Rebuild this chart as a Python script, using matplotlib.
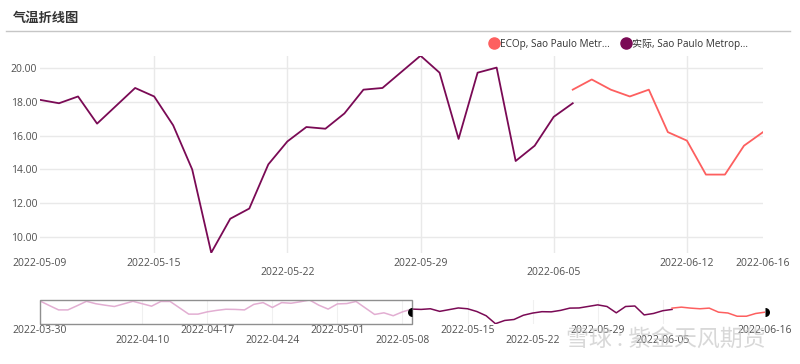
import pandas as pd
import numpy as np
import matplotlib
matplotlib.use('Agg')
import matplotlib.pyplot as plt
import matplotlib.dates as mdates
import matplotlib.transforms as mtransforms
from matplotlib.patches import Rectangle
from matplotlib.lines import Line2D

plt.rcParams['font.family'] = ['Open Sans', 'Noto Sans CJK SC', 'DejaVu Sans']

# temperatures before the zoom window, 2022-03-30 .. 2022-05-08 (overview strip only)
early_start = '2022-03-30'
early_temp = [23.1, 20.3, 17.6, 17.6, 20.2, 22.9, 21.4, 20.5, 19.7, 21.3,
              22.9, 21.4, 19.9, 22.8, 22.8, 18.9, 15.0, 15.0, 16.4, 17.3,
              18.0, 17.9, 17.6, 21.0, 22.1, 19.1, 22.1, 21.7, 22.6, 23.7,
              20.5, 18.1, 21.3, 21.5, 22.8, 18.8, 14.8, 15.8, 14.0, 16.4]

# actual, 2022-05-09 .. 2022-06-06
actual_start = '2022-05-09'
actual_temp = [18.1, 17.9, 18.3, 16.7, 17.75, 18.8, 18.3, 16.6, 14.0, 9.1,
               11.1, 11.7, 14.3, 15.65, 16.5, 16.4, 17.3, 18.7, 18.8, 19.75,
               20.7, 19.7, 15.8, 19.7, 20.0, 14.5, 15.4, 17.1, 17.9]

# ECOp forecast, 2022-06-06 .. 2022-06-16
fc_start = '2022-06-06'
fc_temp = [18.7, 19.3, 18.7, 18.3, 18.7, 16.2, 15.7, 13.7, 13.7, 15.4, 16.2]

main_ticks_row1 = ['2022-05-09', '2022-05-15', '2022-05-29', '2022-06-12', '2022-06-16']
main_ticks_row2 = ['2022-05-22', '2022-06-05']
nav_ticks_row1 = ['2022-03-30', '2022-04-17', '2022-05-01', '2022-05-15', '2022-05-29', '2022-06-16']
nav_ticks_row2 = ['2022-04-10', '2022-04-24', '2022-05-08', '2022-05-22', '2022-06-05']
y_ticks = [10, 12, 14, 16, 18, 20]

legend_labels = ['ECOp, Sao Paulo Metr...', '实际, Sao Paulo Metrop...']

c_actual = '#7a0a55'
c_fc = '#fd5f5f'
c_early = '#e2aed2'
c_text = '#505050'
c_grid = '#e9e9e9'

early_dates = pd.date_range(early_start, periods=len(early_temp), freq='D')
actual_dates = pd.date_range(actual_start, periods=len(actual_temp), freq='D')
fc_dates = pd.date_range(fc_start, periods=len(fc_temp), freq='D')

fig = plt.figure(figsize=(8, 3.64), dpi=100)

# title and divider
fig.text(13 / 800, 1 - 18 / 364, '气温折线图', fontsize=9.5, fontweight='bold',
         family=['Noto Sans CJK SC'], color='#333333', va='center', ha='left')
fig.add_artist(Line2D([6 / 800, 790 / 800], [1 - 31 / 364] * 2, color='#c6c6c6', lw=1))

# ---- main chart
ax = fig.add_axes([40 / 800, 1 - 252.7 / 364, 723 / 800, 197 / 364])
ax.plot(actual_dates, actual_temp, color=c_actual, lw=1.3)
ax.plot(fc_dates, fc_temp, color=c_fc, lw=1.3)

all_main = actual_temp + fc_temp
ax.set_xlim(actual_dates[0], fc_dates[-1])
ax.set_ylim(min(all_main), max(all_main))

for y in y_ticks:
    ax.axhline(y, color=c_grid, lw=1, zorder=0)
for d in main_ticks_row1 + main_ticks_row2:
    dd = pd.Timestamp(d)
    if actual_dates[0] < dd < fc_dates[-1]:
        ax.axvline(dd, color=c_grid, lw=1, zorder=0)

ax.set_yticks(y_ticks)
ax.set_yticklabels(['%.2f' % v for v in y_ticks])
ax.set_xticks([pd.Timestamp(d) for d in main_ticks_row1])
ax.set_xticklabels(main_ticks_row1)
ax.set_xticks([pd.Timestamp(d) for d in main_ticks_row2], minor=True)
ax.set_xticklabels(main_ticks_row2, minor=True)
ax.tick_params(axis='both', which='both', length=0, labelsize=7.5, labelcolor=c_text)
ax.tick_params(axis='x', which='major', pad=4)
ax.tick_params(axis='x', which='minor', pad=10.5)
ax.tick_params(axis='y', pad=2)
for s in ax.spines.values():
    s.set_visible(False)

handles = [Line2D([], [], marker='o', ls='', color=c_fc, markersize=8),
           Line2D([], [], marker='o', ls='', color=c_actual, markersize=8)]
fig.legend(handles, legend_labels, loc='center right', bbox_to_anchor=(752 / 800, 1 - 44 / 364),
           ncol=2, frameon=False, fontsize=7.2, handletextpad=0.1, columnspacing=1.1,
           borderaxespad=0, handlelength=1.0, labelcolor='#333333')

# ---- overview / zoom navigator
nav = fig.add_axes([40 / 800, 1 - 323.7 / 364, 725 / 800, 23.7 / 364])
early_x = list(early_dates) + [actual_dates[0]]
early_y = early_temp + [actual_temp[0]]
nav.plot(early_x, early_y, color=c_early, lw=1.1)
nav.plot(actual_dates, actual_temp, color=c_actual, lw=1.1)
nav.plot(fc_dates, fc_temp, color=c_fc, lw=1.1)

all_nav = early_temp + actual_temp + fc_temp
nav.set_xlim(early_dates[0], fc_dates[-1])
nav.set_ylim(min(all_nav), max(all_nav))

for d in nav_ticks_row1 + nav_ticks_row2:
    nav.axvline(pd.Timestamp(d), color='#f0f0f0', lw=0.8, zorder=0)

x0 = mdates.date2num(early_dates[0])
x1 = mdates.date2num(actual_dates[0])
nav.add_patch(Rectangle((x0, min(all_nav)), x1 - x0, max(all_nav) - min(all_nav),
                        fill=False, edgecolor='#8f8f8f', lw=1, zorder=3, clip_on=False))

trans = mtransforms.blended_transform_factory(nav.transData, nav.transAxes)
nav.plot([actual_dates[0]], [0.5], transform=trans, marker='o', markersize=6.5,
         fillstyle='left', color='black', markerfacecoloralt='none', mew=0,
         clip_on=False, zorder=5)
nav.plot([fc_dates[-1]], [0.5], transform=trans, marker='o', markersize=6.5,
         fillstyle='right', color='black', markerfacecoloralt='none', mew=0,
         clip_on=False, zorder=5)

nav.set_yticks([])
nav.set_xticks([pd.Timestamp(d) for d in nav_ticks_row1])
nav.set_xticklabels(nav_ticks_row1)
nav.set_xticks([pd.Timestamp(d) for d in nav_ticks_row2], minor=True)
nav.set_xticklabels(nav_ticks_row2, minor=True)
nav.tick_params(axis='x', which='both', length=0, labelsize=7.5, labelcolor=c_text)
nav.tick_params(axis='x', which='major', pad=1)
nav.tick_params(axis='x', which='minor', pad=8)
for s in nav.spines.values():
    s.set_visible(False)

# watermark
fig.text(566 / 800, 1 - 339 / 364, '雪球 : 紫金天风期货', fontsize=16.5,
         family=['Noto Sans CJK SC'], color='#c8c8c8', alpha=0.7,
         va='center', ha='left', zorder=10)

fig.savefig('out.png', dpi=100)
